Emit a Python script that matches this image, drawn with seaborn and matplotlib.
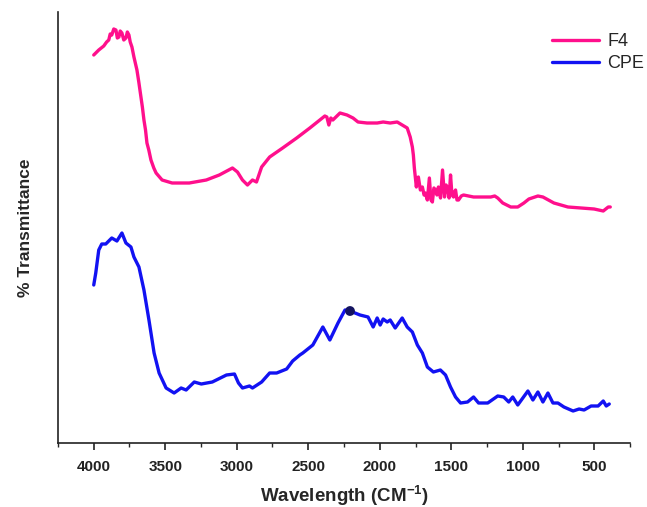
import numpy as np
import pandas as pd
import matplotlib
matplotlib.use("Agg")
import matplotlib.pyplot as plt
import seaborn as sns
from matplotlib.ticker import MultipleLocator

# ---- data (wavenumber in cm^-1, transmittance in arbitrary units) ----
f4_wn = [4000, 3965, 3930, 3910, 3895, 3885, 3874, 3860, 3845, 3835,
         3824, 3815, 3803, 3790, 3775, 3765, 3754, 3745, 3733, 3719,
         3698, 3685, 3670, 3660, 3649, 3638, 3628, 3615, 3600, 3580,
         3564, 3522, 3452, 3332, 3213, 3122, 3030, 2995, 2960, 2925,
         2890, 2862, 2826, 2770, 2679, 2581, 2489, 2419, 2384, 2370,
         2356, 2342, 2328, 2278, 2229, 2187, 2152, 2089, 2018, 1976,
         1927, 1878, 1843, 1808, 1787, 1772, 1765, 1758, 1744, 1737,
         1730, 1716, 1702, 1690, 1681, 1667, 1653, 1642, 1632, 1621,
         1611, 1600, 1590, 1575, 1561, 1547, 1536, 1526, 1515, 1505,
         1495, 1484, 1477, 1470, 1460, 1449, 1430, 1414, 1344, 1274,
         1224, 1196, 1175, 1140, 1084, 1035, 992, 957, 894, 859,
         782, 684, 592, 501, 437, 402, 388]
f4_t = [388, 393, 397, 401, 403, 409, 408, 414, 413, 405,
        406, 412, 410, 403, 405, 411, 408, 401, 396, 386,
        373, 361, 346, 336, 323, 313, 300, 293, 283, 275,
        270, 263, 260, 260, 263, 268, 275, 271, 263, 258,
        263, 261, 276, 286, 295, 305, 315, 323, 327, 326,
        318, 325, 323, 330, 328, 325, 321, 320, 320, 321,
        320, 321, 318, 315, 306, 296, 288, 275, 256, 265,
        266, 253, 256, 248, 250, 243, 265, 243, 241, 255,
        253, 248, 256, 245, 273, 246, 258, 255, 245, 268,
        248, 246, 251, 253, 243, 243, 247, 248, 246, 246,
        246, 247, 245, 240, 236, 236, 240, 244, 247, 246,
        240, 236, 235, 234, 232, 236, 236]

cpe_wn = [4000, 3986, 3965, 3944, 3916, 3874, 3838, 3803, 3775, 3740,
          3719, 3684, 3649, 3614, 3578, 3543, 3494, 3438, 3389, 3354,
          3297, 3248, 3171, 3072, 3016, 2988, 2960, 2911, 2890, 2826,
          2770, 2721, 2651, 2609, 2559, 2538, 2468, 2398, 2349, 2292,
          2243, 2208, 2138, 2082, 2046, 2018, 1997, 1976, 1948, 1927,
          1892, 1843, 1808, 1772, 1737, 1702, 1667, 1625, 1576, 1540,
          1505, 1470, 1435, 1386, 1344, 1309, 1245, 1175, 1133, 1098,
          1070, 1035, 964, 929, 894, 859, 824, 789, 754, 712,
          648, 606, 571, 522, 473, 437, 416, 395]
cpe_t = [158, 170, 193, 199, 199, 205, 202, 210, 200, 196,
         186, 176, 153, 123, 90, 70, 55, 50, 55, 53,
         61, 59, 61, 68, 69, 60, 55, 57, 55, 61,
         70, 70, 74, 82, 88, 90, 98, 116, 103, 120,
         133, 132, 128, 126, 116, 125, 118, 124, 121, 123,
         115, 125, 116, 111, 98, 90, 76, 71, 73, 68,
         56, 46, 40, 41, 46, 40, 40, 47, 46, 41,
         46, 38, 52, 43, 51, 41, 50, 40, 40, 36,
         32, 34, 33, 37, 37, 42, 37, 39]

marker_wn = [2208]
marker_t = [132]

x_ticks = [4000, 3500, 3000, 2500, 2000, 1500, 1000, 500]

df = pd.concat([
    pd.DataFrame({"wn": f4_wn, "T": f4_t, "sample": "F4"}),
    pd.DataFrame({"wn": cpe_wn, "T": cpe_t, "sample": "CPE"}),
], ignore_index=True)

sns.set_style("white")
plt.rcParams["font.family"] = ["Liberation Sans", "DejaVu Sans"]
plt.rcParams["mathtext.fontset"] = "custom"
plt.rcParams["mathtext.rm"] = "Liberation Sans"
plt.rcParams["mathtext.bf"] = "Liberation Sans:bold"

fig = plt.figure(figsize=(6.47, 5.07), dpi=100)
ax = fig.add_axes([58 / 647, 1 - 443 / 507, (630 - 58) / 647, (443 - 12) / 507])

sns.lineplot(data=df, x="wn", y="T", hue="sample", sort=False, estimator=None,
             palette={"F4": "#ff0f8c", "CPE": "#1212f2"}, linewidth=2.4, ax=ax)
sns.scatterplot(x=marker_wn, y=marker_t, color="#141460", s=50, ax=ax,
                zorder=5, edgecolor="none", legend=False)

ax.set_xlim(4250, 250)
ax.set_ylim(0, 431)
ax.set_xticks(x_ticks)
ax.set_xticklabels([str(t) for t in x_ticks], fontweight="bold", fontsize=11)
ax.xaxis.set_minor_locator(MultipleLocator(250))
ax.set_yticks([])
ax.tick_params(axis="x", which="major", direction="out", length=5, width=1.2,
               bottom=True, pad=7, colors="#222222")
ax.tick_params(axis="x", which="minor", direction="out", length=3, width=1.0,
               bottom=True)
for s in ["top", "right"]:
    ax.spines[s].set_visible(False)
for s in ["left", "bottom"]:
    ax.spines[s].set_color("#222222")
    ax.spines[s].set_linewidth(1.2)

ax.set_xlabel("Wavelength (CM$^{\\mathbf{-1}}$)", fontsize=13.5, fontweight="bold",
              labelpad=7)
ax.set_ylabel("% Transmittance", fontsize=12.5, fontweight="bold", labelpad=18)

leg = ax.legend(loc="upper left", bbox_to_anchor=(552 / 647, 1 - 33 / 507),
                bbox_transform=fig.transFigure, frameon=False, fontsize=13,
                handlelength=2.6, handletextpad=0.45, borderpad=0,
                borderaxespad=0, labelspacing=0.3)
for line in leg.get_lines():
    line.set_linewidth(2.4)

fig.savefig("out.png", dpi=100)
